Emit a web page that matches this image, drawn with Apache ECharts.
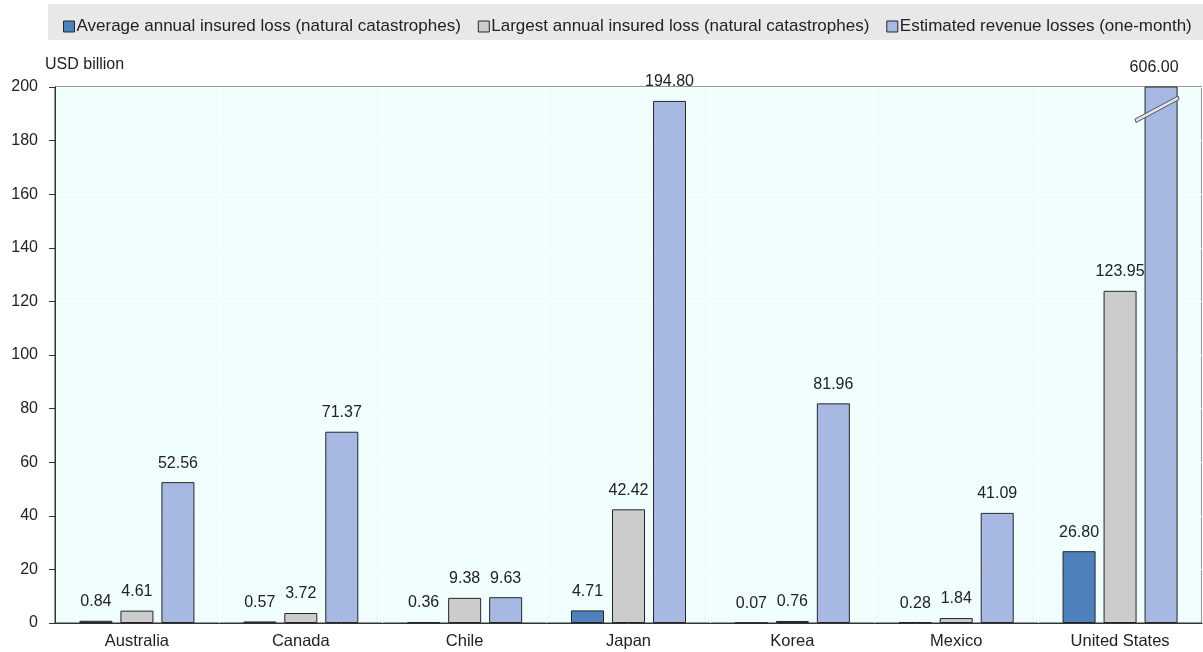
<!DOCTYPE html>
<html><head><meta charset="utf-8">
<script src="https://cdn.jsdelivr.net/npm/echarts@6/dist/echarts.min.js"></script>
<style>html,body{margin:0;padding:0;background:#fff}#c{width:1203px;height:652px}</style>
</head><body><div id="c"></div>
<script>
const categories = ['Australia','Canada','Chile','Japan','Korea','Mexico','United States'];
const seriesNames = ['Average annual insured loss (natural catastrophes)','Largest annual insured loss (natural catastrophes)','Estimated revenue losses (one-month)'];
const averageLoss = [0.84, 0.57, 0.36, 4.71, 0.07, 0.28, 26.80];
const largestLoss = [4.61, 3.72, 9.38, 42.42, 0.76, 1.84, 123.95];
const revenueLoss = [52.56, 71.37, 9.63, 194.80, 81.96, 41.09, 606.00];
const yTicks = [0, 20, 40, 60, 80, 100, 120, 140, 160, 180, 200];
const colors = ['#4F81BD', '#CCCCCC', '#A7B8E2'];
const FONT = "'Liberation Sans',Arial,sans-serif";
const yMax = yTicks[yTicks.length - 1];
const BW = 33, GAP = 8;

const chart = echarts.init(document.getElementById('c'), null, {renderer: 'canvas'});
function mk(i, arr) {
  return {
    name: seriesNames[i], type: 'bar', barWidth: BW, barGap: (GAP / BW * 100) + '%',
    itemStyle: {color: colors[i], borderColor: '#262626', borderWidth: 1},
    label: {show: true, position: 'top', distance: 11, color: '#222', fontFamily: FONT, fontSize: 16,
      formatter: p => arr[p.dataIndex].toFixed(2)},
    data: arr.map(v => v > yMax ? {value: v, label: {offset: [-7, 0]}} : v)
  };
}
const baseGraphic = [
  {type: 'rect', z: -10, shape: {x: 48, y: 4, width: 1155, height: 36}, style: {fill: '#E8E8E8'}},
  {type: 'text', left: 45, top: 57, style: {text: 'USD billion', font: '16px ' + FONT, fill: '#222'}}
];
chart.setOption({
  animation: false,
  backgroundColor: '#fff',
  textStyle: {fontFamily: FONT},
  legend: {
    top: 13, left: 58, itemWidth: 11, itemHeight: 11, itemGap: 17, icon: 'rect',
    textStyle: {fontFamily: FONT, fontSize: 17, color: '#222', padding: [0, 0, 0, -3]},
    itemStyle: {borderColor: '#262626', borderWidth: 1}
  },
  graphic: baseGraphic,
  grid: {left: 55, right: 1, top: 87, bottom: 29, show: true, backgroundColor: '#F0FEFE', borderColor: '#333', borderWidth: 1},
  xAxis: {
    type: 'category', data: categories,
    axisLine: {lineStyle: {color: '#333'}},
    axisTick: {inside: true, length: 6, lineStyle: {color: '#333'}},
    axisLabel: {color: '#222', fontSize: 16.5, fontFamily: FONT, margin: 10},
    splitLine: {show: true, lineStyle: {color: '#FFFFFF', width: 1}}
  },
  yAxis: {
    type: 'value', min: 0, max: yMax, interval: 20,
    axisLine: {show: true, lineStyle: {color: '#333'}},
    axisTick: {show: true, length: 6, lineStyle: {color: '#333'}},
    axisLabel: {color: '#222', fontSize: 16, fontFamily: FONT, margin: 17},
    splitLine: {show: true, lineStyle: {color: '#FFFFFF'}}
  },
  series: [mk(0, averageLoss), mk(1, largestLoss), mk(2, revenueLoss)]
});

// Axis-break marks on truncated bars
const breaks = [];
revenueLoss.forEach((v, i) => {
  if (v > yMax) {
    const c = chart.convertToPixel({xAxisIndex: 0, yAxisIndex: 0}, [i, yMax * 0.958]);
    const cx = c[0] + BW + GAP, cy = c[1];
    const x0 = cx - 26, x1 = cx + 17, y0 = cy + 11, y1 = cy - 12;
    breaks.push({type: 'polygon', z: 100, shape: {points: [[x0, y0 - 1.5], [x1, y1 - 1.5], [x1 + 1, y1 + 2], [x0 + 1, y0 + 2]]},
      style: {fill: '#DDE3EE', stroke: '#555', lineWidth: 1}});
  }
});
chart.setOption({graphic: baseGraphic.concat(breaks)});
</script></body></html>
